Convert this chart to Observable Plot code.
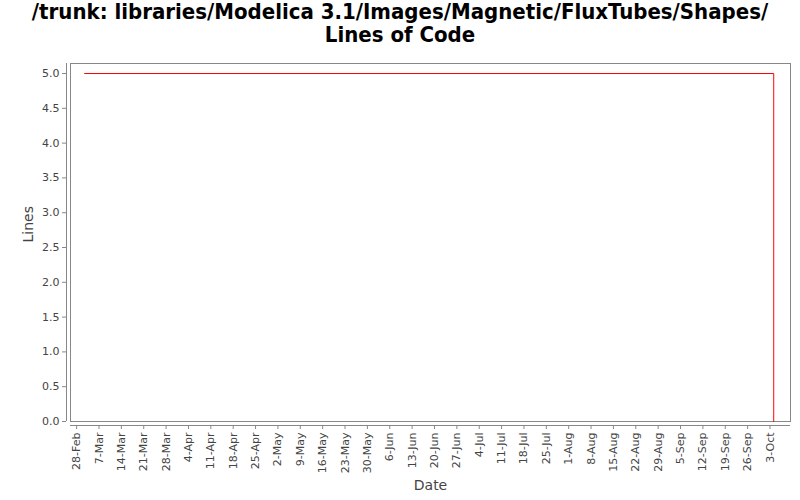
<!DOCTYPE html>
<html><head><meta charset="utf-8">
<script src="https://cdn.jsdelivr.net/npm/d3@7"></script>
<script src="https://cdn.jsdelivr.net/npm/@observablehq/plot@0.6"></script>
<style>
html,body{margin:0;padding:0;background:#fff;}
#title{width:800px;height:55px;box-sizing:border-box;padding-top:0px;text-align:center;white-space:nowrap;font-family:"DejaVu Sans Condensed","DejaVu Sans",sans-serif;font-stretch:condensed;font-weight:bold;font-size:22px;line-height:23px;color:#000;}
#chart svg{display:block;}
</style></head><body>
<div id="title">/trunk: libraries/Modelica 3.1/Images/Magnetic/FluxTubes/Shapes/<br>Lines of Code</div>
<div id="chart"></div>
<script>
const dates = ["2010-03-02T12:00", "2010-10-04T04:00", "2010-10-04T04:00"];
const lines = [5, 5, 0];
const tickDates = ["2010-02-28","2010-03-07","2010-03-14","2010-03-21","2010-03-28","2010-04-04","2010-04-11","2010-04-18","2010-04-25","2010-05-02","2010-05-09","2010-05-16","2010-05-23","2010-05-30","2010-06-06","2010-06-13","2010-06-20","2010-06-27","2010-07-04","2010-07-11","2010-07-18","2010-07-25","2010-08-01","2010-08-08","2010-08-15","2010-08-22","2010-08-29","2010-09-05","2010-09-12","2010-09-19","2010-09-26","2010-10-03"];
const yTicks = [0,0.5,1,1.5,2,2.5,3,3.5,4,4.5,5];
const xDomain = ["2010-02-26T02:00", "2010-10-09T10:00"];

const data = dates.map((d,i)=>({date:new Date(d), value:lines[i]}));
const xt = tickDates.map(d=>new Date(d));
const fmt = d3.utcFormat("%-d-%b");

const chart = Plot.plot({
  width: 800, height: 445,
  marginTop: 8, marginBottom: 79, marginLeft: 70, marginRight: 10,
  style: {fontFamily: "DejaVu Sans, sans-serif", fontSize: "11px", color: "#444", background: "#fff"},
  x: {type: "utc", domain: xDomain.map(d=>new Date(d))},
  y: {domain: [0, 5.144]},
  marks: [
    Plot.frame({stroke: "#888"}),
    Plot.axisY({ticks: yTicks, tickFormat: d3.format(".1f"), tickSize: 4, dx: -4, tickPadding: 3, label: null, stroke: "#888", fill: "#444"}),
    Plot.ruleX([new Date(xDomain[0])], {dx: -4, y1: 0, y2: 5.144, stroke: "#888"}),
    Plot.axisX({ticks: xt, tickFormat: fmt, tickRotate: -90, tickSize: 4, dy: 4, tickPadding: 3, label: null, stroke: "#888", fill: "#444"}),
    Plot.ruleY([0], {dy: 4, stroke: "#888"}),
    Plot.text(["Date"], {frameAnchor: "bottom", dy: 68, fontSize: 14, fill: "#444", fontFamily: "DejaVu Sans, sans-serif"}),
    Plot.text(["Lines"], {frameAnchor: "left", dx: -42, rotate: -90, fontSize: 14, fill: "#444"}),
    Plot.line(data, {x: "date", y: "value", stroke: "red", strokeWidth: 1})
  ]
});
document.getElementById("chart").appendChild(chart);
</script>
</body></html>
